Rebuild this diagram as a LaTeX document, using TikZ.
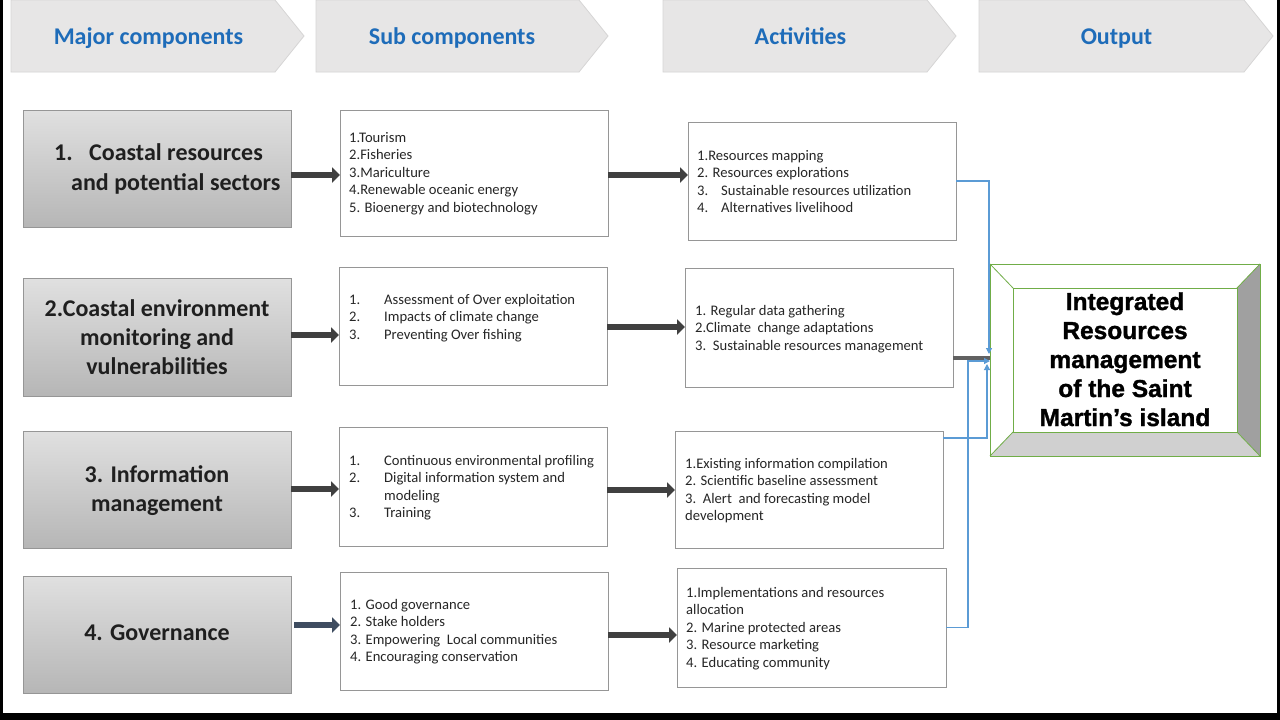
\documentclass[tikz,border=0pt]{standalone}
\usepackage{fontspec}
\setmainfont{Carlito}
\newfontfamily\arialf{Liberation Sans}[BoldFeatures={FakeBold=1.3}]
\usetikzlibrary{arrows.meta,calc}
\definecolor{hdrblue}{RGB}{30,108,185}
\definecolor{chevfill}{RGB}{231,230,230}
\definecolor{chevline}{RGB}{214,213,213}
\definecolor{boxline}{RGB}{150,150,150}
\definecolor{arrowgray}{RGB}{64,64,64}
\definecolor{arrowslate}{RGB}{62,76,96}
\definecolor{conblue}{RGB}{91,155,213}
\definecolor{outgreen}{RGB}{112,173,71}
\definecolor{bevdark}{RGB}{160,160,160}
\definecolor{bevlight}{RGB}{208,208,208}
\definecolor{majtop}{RGB}{224,224,224}
\definecolor{majbot}{RGB}{182,182,182}
\begin{document}
\begin{tikzpicture}[x=1pt,y=-1pt,
  chev/.style={fill=chevfill,draw=chevline,line width=0.8pt},
  hdrtxt/.style={font=\fontsize{24}{28}\selectfont\bfseries,text=hdrblue,inner sep=0pt,anchor=base},
  majorbox/.style={draw=boxline,line width=0.8pt,top color=majtop,bottom color=majbot,inner sep=0pt,outer sep=0pt},
  subbox/.style={draw=boxline,line width=0.8pt,fill=white,inner sep=0pt,outer sep=0pt},
  majtxt/.style={font=\fontsize{24}{29}\selectfont\bfseries,text=black!88,inner sep=0pt},
  listtxt/.style={font=\fontsize{14.6}{17.6}\selectfont,text=black!85,align=left,inner sep=0pt,anchor=north west},
  blockarrow/.style={draw=arrowgray,line width=6pt,-{Triangle[length=8pt,width=15pt]}},
  conline/.style={draw=conblue,line width=1.2pt,-{Triangle[length=6pt,width=6pt]}},
  grayline/.style={draw=black!62,line width=4pt}
]
\useasboundingbox (0,0) rectangle (1280,720);
\fill[white] (0,0) rectangle (1280,720);

% header chevrons
\draw[chev] (11,0) -- (275,0) -- (304,36) -- (275,72) -- (11,72) -- cycle;
\draw[chev] (316,0) -- (579,0) -- (608,36) -- (579,72) -- (316,72) -- cycle;
\draw[chev] (663,0) -- (927,0) -- (956,36) -- (927,72) -- (663,72) -- cycle;
\draw[chev] (979,0) -- (1244,0) -- (1273,36) -- (1244,72) -- (979,72) -- cycle;
\node[hdrtxt] (h1) at (148.5,44.9) {Major components};
\node[hdrtxt] (h2) at (452,44.9) {Sub components};
\node[hdrtxt] (h3) at (800.5,44.9) {Activities};
\node[hdrtxt] (h4) at (1116.5,44.9) {Output};

% major boxes
\node[majorbox,minimum width=268pt,minimum height=117pt] (B1) at (157,168.5) {};
\node[majorbox,minimum width=268pt,minimum height=118pt] (B2) at (157,337) {};
\node[majorbox,minimum width=268pt,minimum height=117pt] (B3) at (157,489.5) {};
\node[majorbox,minimum width=268pt,minimum height=117pt] (B4) at (157,634.5) {};

\node[majtxt,anchor=base west] (tB1a) at (54,160.9) {\makebox[35pt][l]{1.}Coastal resources};
\node[majtxt,anchor=base west] (tB1b) at (71,190.9) {and potential sectors};
\node[majtxt,align=center,anchor=north] (tB2) at (157,295.6) {\strut 2.Coastal environment\\\strut monitoring and\\\strut vulnerabilities};
\node[majtxt,align=center,anchor=north] (tB3) at (157,461.6) {\strut 3. Information\\\strut management};
\node[majtxt,anchor=base] (tB4) at (157,640.9) {4. Governance};

% sub boxes
\node[subbox,minimum width=268pt,minimum height=126pt] (S1) at (474,173) {};
\node[subbox,minimum width=268pt,minimum height=118pt] (S2) at (473,326) {};
\node[subbox,minimum width=268pt,minimum height=119pt] (S3) at (473,486.5) {};
\node[subbox,minimum width=268pt,minimum height=118pt] (S4) at (474,631) {};

\node[listtxt] (tS1) at (349,129.5) {\strut 1.Tourism\\\strut 2.Fisheries\\\strut 3.Mariculture\\\strut 4.Renewable oceanic energy\\\strut 5. Bioenergy and biotechnology};
\node[listtxt] (tS2) at (349,291.5) {\strut\makebox[35pt][l]{1.}Assessment of Over exploitation\\\strut\makebox[35pt][l]{2.}Impacts of climate change\\\strut\makebox[35pt][l]{3.}Preventing Over fishing};
\node[listtxt] (tS3) at (349,452.5) {\strut\makebox[35pt][l]{1.}Continuous environmental profiling\\\strut\makebox[35pt][l]{2.}Digital information system and\\\strut\hspace*{35pt}modeling\\\strut\makebox[35pt][l]{3.}Training};
\node[listtxt] (tS4) at (350,596.5) {\strut 1. Good governance\\\strut 2. Stake holders\\\strut 3. Empowering\ \ Local communities\\\strut 4. Encouraging conservation};

% activity boxes
\node[subbox,minimum width=268pt,minimum height=118pt] (A1) at (822,181) {};
\node[subbox,minimum width=268pt,minimum height=119pt] (A2) at (819,327.5) {};
\node[subbox,minimum width=268pt,minimum height=117pt] (A3) at (809,489.5) {};
\node[subbox,minimum width=269pt,minimum height=119pt] (A4) at (811.5,627.5) {};

\node[listtxt] (tA1) at (697,147.5) {\strut 1.Resources mapping\\\strut 2. Resources explorations\\\strut\makebox[24pt][l]{3.}Sustainable resources utilization\\\strut\makebox[24pt][l]{4.}Alternatives livelihood};
\node[listtxt] (tA2) at (695,302.5) {\strut 1. Regular data gathering\\\strut 2.Climate\ \ change adaptations\\\strut 3.\ \ Sustainable resources management};
\node[listtxt] (tA3) at (685,455.5) {\strut 1.Existing information compilation\\\strut 2. Scientific baseline assessment\\\strut 3.\ \ Alert\ \ and forecasting model\\\strut development};
\node[listtxt] (tA4) at (686,584.5) {\strut 1.Implementations and resources\\\strut allocation\\\strut 2. Marine protected areas\\\strut 3. Resource marketing\\\strut 4. Educating community};

% block arrows
\draw[blockarrow] (B1.east |- 0,175) -- (S1.west |- 0,175);
\draw[blockarrow] (B2.east |- 0,335) -- (S2.west |- 0,335);
\draw[blockarrow] (B3.east |- 0,489) -- (S3.west |- 0,489);
\draw[blockarrow,draw=arrowslate] ($(B4.east |- 0,625)+(3,0)$) -- (S4.west |- 0,625);
\draw[blockarrow] (S1.east |- 0,175) -- (A1.west |- 0,175);
\draw[blockarrow] (S2.east |- 0,327) -- (A2.west |- 0,327);
\draw[blockarrow] (S3.east |- 0,490) -- (A3.west |- 0,490);
\draw[blockarrow] (S4.east |- 0,635) -- (A4.west |- 0,635);

% output bevel box
\node[draw=outgreen,line width=1pt,minimum width=270pt,minimum height=192pt,inner sep=0pt,outer sep=0pt] (O) at (1125,360) {};
\coordinate (iNW) at ($(O.north west)+(23,24)$);
\coordinate (iNE) at ($(O.north east)+(-23,24)$);
\coordinate (iSE) at ($(O.south east)+(-23,-24)$);
\coordinate (iSW) at ($(O.south west)+(23,-24)$);
\fill[bevdark] (O.north east) -- (O.south east) -- (iSE) -- (iNE) -- cycle;
\fill[bevlight] (O.south west) -- (O.south east) -- (iSE) -- (iSW) -- cycle;
\draw[outgreen,line width=1pt] (O.north west) rectangle (O.south east);
\draw[outgreen,line width=1pt] (iNW) rectangle (iSE);
\draw[outgreen,line width=0.8pt] (O.north west) -- (iNW) (O.north east) -- (iNE) (O.south east) -- (iSE) (O.south west) -- (iSW);
\node[font=\arialf\fontsize{24.5}{29}\selectfont\bfseries,align=center,inner sep=0pt,anchor=north] (tO) at (1125,289.5)
  {\strut Integrated\\\strut Resources\\\strut management\\\strut of the Saint\\\strut Martin’s island};

% connectors to output
\coordinate (j4) at (968,361);
\draw[grayline] (A2.east |- 0,358) -- (O.west |- 0,358);
\draw[conline] (A1.east) -| ($(O.west)+(-1,-6)$);
\draw[conline] (A3.east |- 0,438) -| ($(O.west)+(-3,4)$);
\draw[conline] (A4.east) -| (j4) -- (O.west |- j4);

% frame
\fill[black] (0,0) rectangle (3,720);
\fill[black] (1277,0) rectangle (1280,720);
\fill[black] (0,713) rectangle (1280,720);
\end{tikzpicture}
\end{document}
